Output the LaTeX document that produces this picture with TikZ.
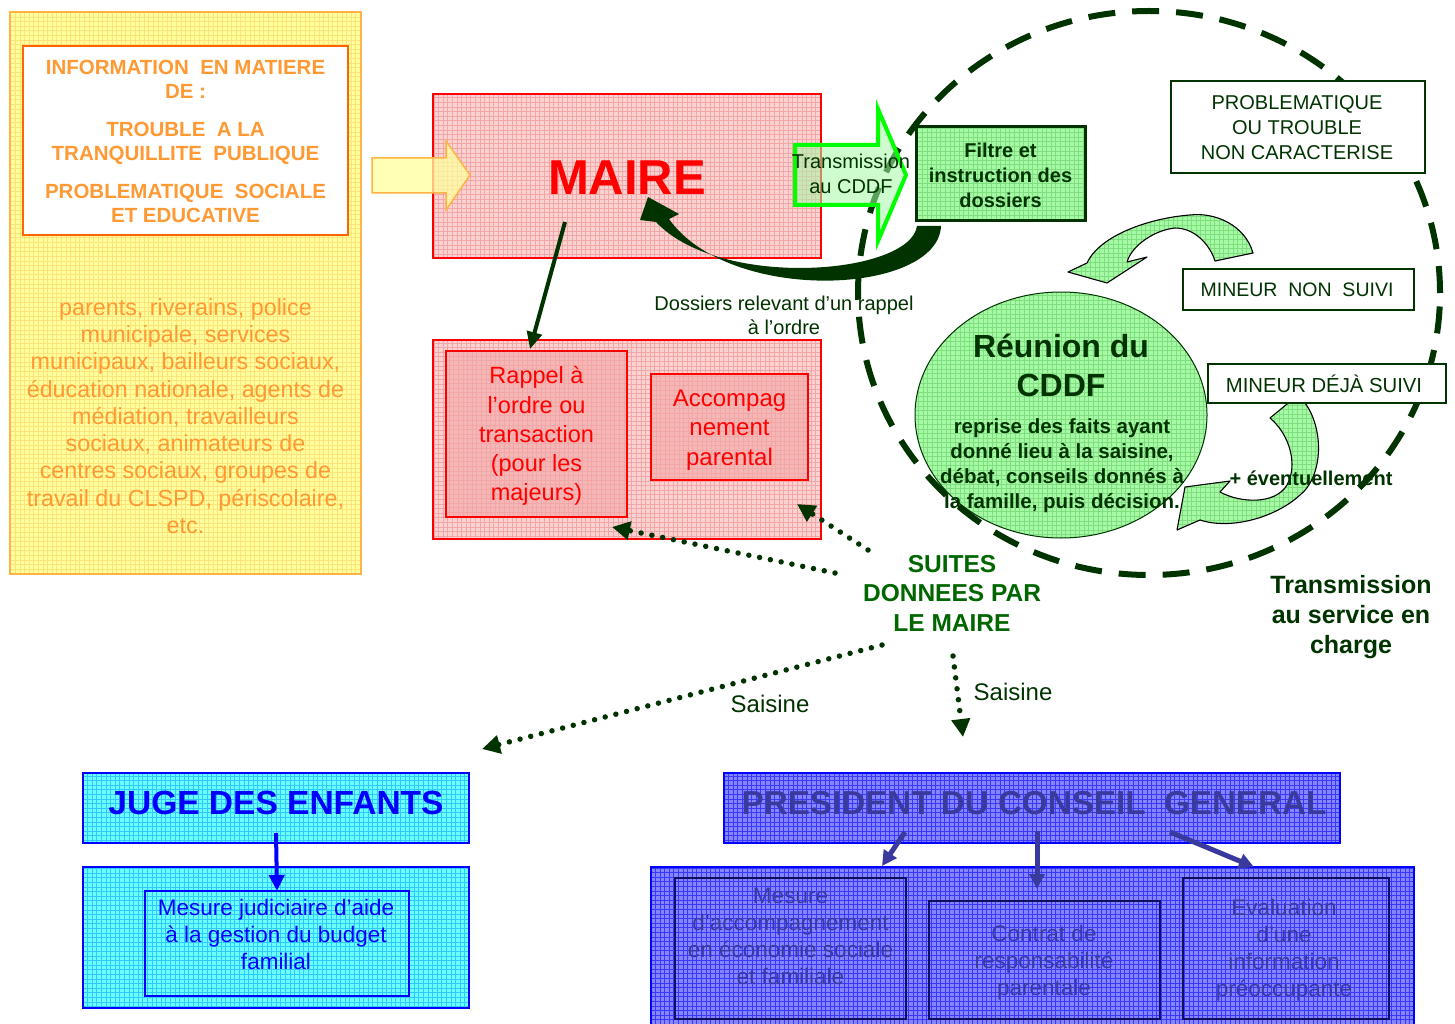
\documentclass[tikz,border=0pt]{standalone}
\usepackage{fontspec}
\setmainfont{Liberation Sans}
\usetikzlibrary{arrows.meta,shapes.geometric}
\definecolor{dkgreen}{HTML}{003300}
\definecolor{midgreen}{HTML}{006600}
\definecolor{lgreen}{HTML}{A6FAA6}
\definecolor{lgreenG}{HTML}{7FDF7F}
\definecolor{orangeT}{HTML}{FF9933}
\definecolor{orangeB}{HTML}{FF6600}
\definecolor{orangeL}{HTML}{FFB347}
\definecolor{yellowF}{HTML}{FFFF9E}
\definecolor{yellowG}{HTML}{FFE37A}
\definecolor{pinkF}{HTML}{FAD2D2}
\definecolor{pinkG}{HTML}{F2A6A6}
\definecolor{pinkD}{HTML}{F5B6B6}
\definecolor{cyanF}{HTML}{6CFFFF}
\definecolor{cyanG}{HTML}{2FC8FF}
\definecolor{blueF}{HTML}{8585FF}
\definecolor{blueG}{HTML}{3838FF}
\definecolor{navyT}{HTML}{3A3A9E}
\definecolor{navyB}{HTML}{101060}
\definecolor{brightG}{HTML}{00FF00}
\newcommand\fsz[2]{\fontsize{#1}{#2}\selectfont}
\tikzset{
  gridfill/.style 2 args={fill=#1, path picture={\draw[#2, line width=0.6pt, step=4.6pt] (path picture bounding box.south west) grid (path picture bounding box.north east);}},
  rbox/.style={rectangle, inner sep=0pt, outer sep=0pt},
  txt/.style={inner sep=0pt, outer sep=0pt, align=center},
  dotarrow/.style={dkgreen, line width=5.5pt, dash pattern=on 0pt off 11pt, line cap=round, -{Triangle[length=18pt,width=18pt]}},
  greenarrow/.style={gridfill={lgreen}{lgreenG}, draw=black, line width=1.1pt, line join=round},
}
\begin{document}
\begin{tikzpicture}[x=1pt,y=-1pt]
\useasboundingbox[fill=white] (0,0) rectangle (1455,1024);

% ---------- left yellow block ----------
\node[rbox, draw=orangeL, line width=1.2pt, gridfill={yellowF}{yellowG}, minimum width=351pt, minimum height=562pt] (src) at (185.5,293) {};
\node[rbox, draw=orangeB, line width=1.5pt, fill=white, minimum width=325pt, minimum height=189pt] (info) at (185.5,140.5) {};
\node[txt, font=\bfseries\fsz{20.5}{24}, text=orangeT] (infot) at (185.5,141) {INFORMATION\ \ EN MATIERE\\DE :\\[14pt]TROUBLE\ \ A LA\\TRANQUILLITE\ \ PUBLIQUE\\[14pt]PROBLEMATIQUE\ \ SOCIALE\\ET EDUCATIVE};
\node[txt, font=\fsz{23.3}{27.3}, text=orangeT] (acteurs) at (185.5,416) {parents, riverains, police\\municipale, services\\municipaux, bailleurs sociaux,\\éducation nationale, agents de\\médiation, travailleurs\\sociaux, animateurs de\\centres sociaux, groupes de\\travail du CLSPD, périscolaire,\\etc.};

% ---------- MAIRE ----------
\node[rbox, draw=red, line width=1.2pt, gridfill={pinkF}{pinkG}, minimum width=388pt, minimum height=164pt] (maire) at (627,176) {};
\node[txt, font=\bfseries\fsz{49}{55}, text=red] (mairet) at (627,178) {MAIRE};
\path[fill=yellowF, fill opacity=0.75, draw=orangeL, line width=1.5pt, line join=miter] (372,158) -- (446,158) -- (446,141) -- (470,175) -- (446,210) -- (446,193) -- (372,193) -- cycle;

% ---------- lower pink block ----------
\node[rbox, draw=red, line width=1.2pt, gridfill={pinkF}{pinkG}, minimum width=388pt, minimum height=199pt] (suitesbox) at (627,439.5) {};
\node[rbox, draw=red, line width=1.4pt, gridfill={pinkD}{pinkG}, minimum width=181pt, minimum height=166pt] (rap) at (536.5,434) {};
\node[txt, font=\fsz{23.5}{29.2}, text=red] (rapt) at (536.5,436) {Rappel à\\l’ordre ou\\transaction\\(pour les\\majeurs)};
\node[rbox, draw=red, line width=1.4pt, gridfill={pinkD}{pinkG}, minimum width=157pt, minimum height=106pt] (acc) at (729.5,427) {};
\node[txt, font=\fsz{24}{29.5}, text=red] (acct) at (729.5,430) {Accompag\\nement\\parental};
\coordinate (m1) at (565,222);
\coordinate (rapin) at (530,349);
\draw[dkgreen, line width=4pt, -{Triangle[length=17pt,width=15pt]}] (m1) -- (rapin);

% ---------- big dark return arrow ----------
\path[fill=dkgreen] (941,226) .. controls (938,295) and (730,305) .. (669,219) -- (679,214) -- (648,197) -- (640,220) -- (656,222) .. controls (720,290) and (910,275) .. (917,226) -- cycle;
\node[txt, font=\fsz{20}{24}, text=dkgreen] (dossiers) at (784,315) {Dossiers relevant d’un rappel\\à l’ordre};

% ---------- CDDF meeting ----------
\node[ellipse, draw=dkgreen, line width=1pt, gridfill={lgreen}{lgreenG}, minimum width=292pt, minimum height=246pt, inner sep=0pt] (cddf) at (1061,415) {};
% upper curved arrow
\path[greenarrow] (1253,253) .. controls (1245,225) and (1215,212) .. (1190,215) .. controls (1150,218) and (1100,235) .. (1087,263) -- (1068,272) -- (1107,283) -- (1147,257) -- (1127,262) .. controls (1132,245) and (1155,230) .. (1175,228) .. controls (1195,228) and (1210,245) .. (1215,261) -- cycle;
% lower curved arrow
\path[greenarrow] (1298,395) .. controls (1325,420) and (1325,475) .. (1300,495) .. controls (1275,518) and (1230,530) .. (1200,520) -- (1177,530) -- (1185,487) -- (1230,481) -- (1220,492) .. controls (1240,503) and (1275,505) .. (1287,485) .. controls (1298,465) and (1290,435) .. (1270,418) -- cycle;
\node[txt, font=\bfseries\fsz{32}{39}, text=dkgreen] (cddft) at (1061,365) {Réunion du\\CDDF};
\node[txt, font=\bfseries\fsz{20.5}{25}, text=dkgreen] (cddfd) at (1062,466) {reprise des faits ayant\\donné lieu à la saisine,\\débat, conseils donnés à\\la famille, puis décision.};
\node[txt, font=\bfseries\fsz{20}{24}, text=dkgreen] (event) at (1311,478) {+ éventuellement};

% ---------- dashed big ellipse ----------
\node[ellipse, draw=dkgreen, line width=6pt, dash pattern=on 27pt off 17pt, minimum width=582pt, minimum height=564pt, inner sep=0pt] (cercle) at (1149,293) {};

% ---------- transmission arrow and filter ----------
\path[fill=lgreen, fill opacity=0.55, draw=brightG, line width=4pt, line join=miter] (795,145) -- (878,145) -- (878,109) -- (906,175) -- (878,241) -- (878,205) -- (795,205) -- cycle;
\node[txt, font=\fsz{20}{25}, text=dkgreen] (transt) at (851,174) {Transmission\\au CDDF};
\node[rbox, draw=dkgreen, line width=3pt, gridfill={lgreen}{lgreenG}, minimum width=169pt, minimum height=94pt] (filtre) at (1000.5,174) {};
\node[txt, font=\bfseries\fsz{20}{25}, text=dkgreen] (filtret) at (1000.5,175) {Filtre et\\instruction des\\dossiers};

\node[rbox, draw=dkgreen, line width=1.5pt, fill=white, minimum width=254pt, minimum height=92pt] (prob) at (1298,127) {};
\node[txt, font=\fsz{20}{25}, text=dkgreen] (probt) at (1297,128) {PROBLEMATIQUE\\OU TROUBLE\\NON CARACTERISE};
\node[rbox, draw=dkgreen, line width=1.5pt, fill=white, minimum width=231pt, minimum height=41pt] (mns) at (1298.5,289.5) {};
\node[txt, font=\fsz{19.5}{24}, text=dkgreen] (mnst) at (1297,290) {MINEUR\ \ NON\ \ SUIVI};
\node[rbox, draw=dkgreen, line width=1.5pt, fill=white, minimum width=238pt, minimum height=39pt] (mds) at (1327,383.5) {};
\node[txt, font=\fsz{20.3}{24}, text=dkgreen] (mdst) at (1324,384) {MINEUR\ DÉJÀ SUIVI};

% ---------- suites ----------
\node[txt, font=\bfseries\fsz{24.5}{29.5}, text=midgreen] (suites) at (952,593) {SUITES\\DONNEES PAR\\LE MAIRE};
\node[txt, font=\bfseries\fsz{25}{30}, text=dkgreen] (trans) at (1351,617) {Transmission\\au service en\\charge};

\coordinate (s1) at (835,573);
\coordinate (s1e) at (612,527);
\coordinate (s2) at (868,550);
\coordinate (s2e) at (797,504);
\coordinate (s3) at (882,645);
\coordinate (s3e) at (482,749);
\coordinate (s4) at (953,656);
\coordinate (s4e) at (963,737);
\draw[dotarrow] (s1) -- (s1e);
\draw[dotarrow] (s2) -- (s2e);
\draw[dotarrow] (s3) -- (s3e);
\draw[dotarrow] (s4) -- (s4e);
\node[txt, font=\fsz{24}{28}, text=dkgreen] (sais1) at (770,704) {Saisine};
\node[txt, font=\fsz{24}{28}, text=dkgreen] (sais2) at (1013,692) {Saisine};

% ---------- juge des enfants ----------
\node[rbox, draw=blue, line width=1.5pt, gridfill={cyanF}{cyanG}, minimum width=386pt, minimum height=70pt] (juge) at (276,808) {};
\node[txt, font=\bfseries\fsz{33.5}{36}, text=blue] (juget) at (276,803) {JUGE DES ENFANTS};
\node[rbox, draw=blue, line width=1.5pt, gridfill={cyanF}{cyanG}, minimum width=386pt, minimum height=141pt] (jugeb) at (276,937.5) {};
\node[rbox, draw=blue, line width=1.5pt, minimum width=264pt, minimum height=105pt] (mjb) at (277,943.5) {};
\node[txt, font=\fsz{22.5}{27}, text=blue] (mjbt) at (276,934) {Mesure judiciaire d’aide\\à la gestion du budget\\familial};
\coordinate (j1) at (276,833);
\draw[blue, line width=4pt, -{Triangle[length=16pt,width=15pt]}] (j1) -- (mjb.north);

% ---------- president du conseil general ----------
\node[rbox, draw=blue, line width=1.5pt, gridfill={blueF}{blueG}, minimum width=616pt, minimum height=70pt] (pres) at (1032,808) {};
\node[txt, font=\bfseries\fsz{33.2}{36}, text=navyT] (prest) at (1034,803) {PRESIDENT DU CONSEIL\ \ GENERAL};
\node[rbox, draw=blue, line width=1.5pt, gridfill={blueF}{blueG}, minimum width=763pt, minimum height=158pt] (presb) at (1032.5,946) {};
\node[rbox, draw=navyB, line width=1.5pt, minimum width=231pt, minimum height=141pt] (pa) at (790.5,948.5) {};
\node[txt, font=\fsz{22.5}{27}, text=navyT] (pat) at (790.5,936) {Mesure\\d’accompagnement\\en économie sociale\\et familiale};
\node[rbox, draw=navyB, line width=1.5pt, minimum width=231pt, minimum height=118pt] (pb) at (1044.5,960) {};
\node[txt, font=\fsz{22.5}{27}, text=navyT] (pbt) at (1044,963) {Contrat de\\responsabilité\\parentale};
\node[rbox, draw=navyB, line width=1.5pt, minimum width=206pt, minimum height=141pt] (pc) at (1286,948.5) {};
\node[txt, font=\fsz{22.5}{27}, text=navyT] (pct) at (1284,950) {Evaluation\\d’une\\information\\préoccupante};
\coordinate (p1) at (905,832);
\coordinate (p1e) at (882,866);
\coordinate (p2) at (1037,831);
\coordinate (p2e) at (1037,889);
\coordinate (p3) at (1170,832);
\coordinate (p3e) at (1254,867);
\draw[navyT, line width=5pt, -{Triangle[length=15pt,width=15pt]}] (p1) -- (p1e);
\draw[navyT, line width=5pt, -{Triangle[length=15pt,width=15pt]}] (p2) -- (p2e);
\draw[navyT, line width=5pt, -{Triangle[length=15pt,width=15pt]}] (p3) -- (p3e);
\end{tikzpicture}
\end{document}
